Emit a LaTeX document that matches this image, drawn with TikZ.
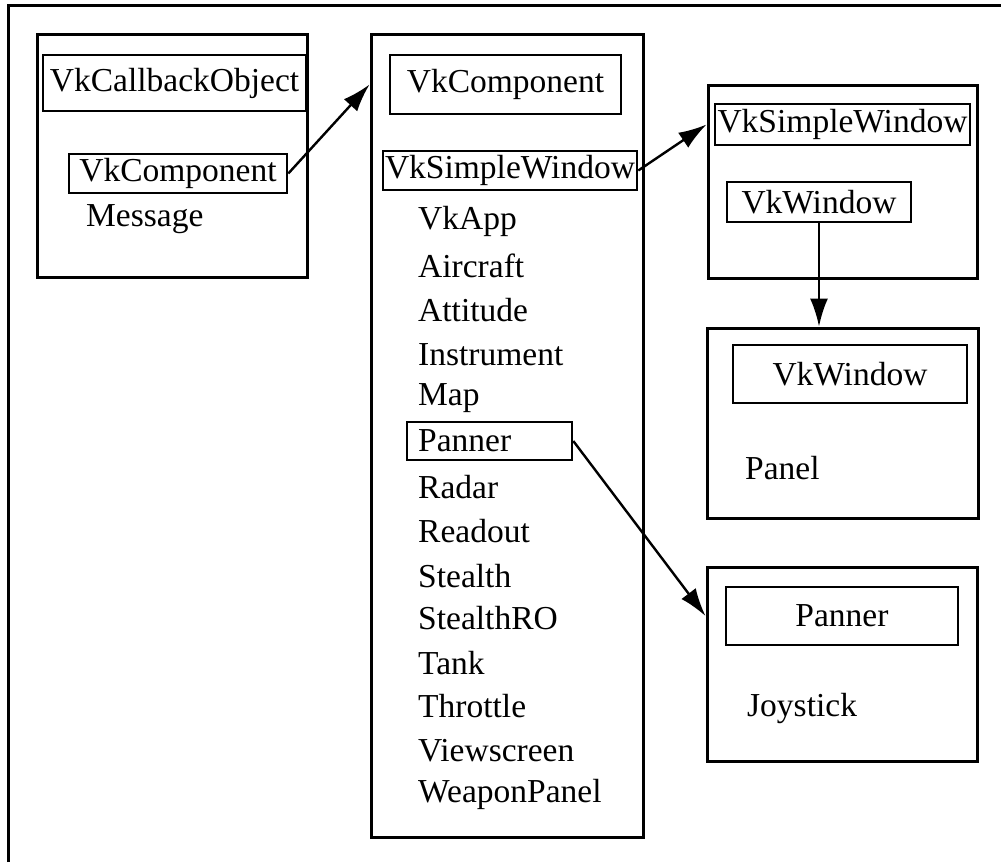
\documentclass[tikz,border=0pt]{standalone}
\usepackage{fontspec}
\setmainfont{Liberation Serif}
\usetikzlibrary{arrows.meta}
\begin{document}
\begin{tikzpicture}[x=1pt,y=-1pt,
  frame/.style={draw, line width=3pt, inner sep=0pt},
  classbox/.style={draw, line width=2.6pt, inner sep=0pt, font=\fontsize{33.5}{38}\selectfont},
  item/.style={anchor=west, inner sep=0pt, font=\fontsize{33.5}{38}\selectfont},
  arr/.style={line width=2.4pt, -{Latex[length=28pt,width=18pt]}}]
\useasboundingbox (0,0) rectangle (1001,862);
% page frame (left and top edges)
\draw[line width=3pt] (8,862) -- (8,5) -- (1001,5);

% group 1
\node[frame, minimum width=270pt, minimum height=243pt] (b1) at (172,155.5) {};
\node[classbox, minimum width=263pt, minimum height=56pt] (cbo) at (174.5,83) {VkCallbackObject};
\node[classbox, minimum width=218pt, minimum height=39pt] (comp1) at (178,173.5) {VkComponent};
\node[item] (msg) at (86,219) {Message};

% group 2
\node[frame, minimum width=272pt, minimum height=803pt] (b2) at (507,435.5) {};
\node[classbox, minimum width=231pt, minimum height=59pt] (comp2) at (505.5,84.5) {VkComponent};
\node[classbox, minimum width=254pt, minimum height=39pt] (sw2) at (510,170.5) {VkSimpleWindow};
\node[draw, line width=2.6pt, minimum width=165pt, minimum height=38pt, inner sep=0pt] (pbox) at (489.5,441) {};
\node[item] (i1) at (418,221) {VkApp};
\node[item] (i2) at (418,266) {Aircraft};
\node[item] (i3) at (418,310) {Attitude};
\node[item] (i4) at (418,355) {Instrument};
\node[item] (i5) at (418,398) {Map};
\node[item] (i6) at (418,441) {Panner};
\node[item] (i7) at (418,487) {Radar};
\node[item] (i8) at (418,531) {Readout};
\node[item] (i9) at (418,576) {Stealth};
\node[item] (i10) at (418,618) {StealthRO};
\node[item] (i11) at (418,663) {Tank};
\node[item] (i12) at (418,706) {Throttle};
\node[item] (i13) at (418,751) {Viewscreen};
\node[item] (i14) at (418,794) {WeaponPanel};

% group 3
\node[frame, minimum width=269pt, minimum height=193pt] (b3) at (842.5,181.5) {};
\node[classbox, minimum width=255pt, minimum height=41pt] (sw3) at (842.5,124.5) {VkSimpleWindow};
\node[classbox, minimum width=184pt, minimum height=40pt] (win3) at (819,202) {VkWindow};

% group 4
\node[frame, minimum width=271pt, minimum height=190pt] (b4) at (842.5,423) {};
\node[classbox, minimum width=234pt, minimum height=58pt] (win4) at (850,374) {VkWindow};
\node[item] (panel) at (745,468) {Panel};

% group 5
\node[frame, minimum width=270pt, minimum height=194pt] (b5) at (842,664) {};
\node[classbox, minimum width=232pt, minimum height=58pt] (pan5) at (842,616) {Panner};
\node[item] (joy) at (747,708) {Joystick};

% connectors
\draw[arr] (comp1.east) -- (b2.west |- comp2.center);
\draw[arr] (sw2.east) -- (b3.west |- sw3.center);
\draw[arr] (win3.south) -- (b4.north -| win3.south);
\draw[arr] (pbox.east) -- (b5.west |- pan5.center);
\end{tikzpicture}
\end{document}
